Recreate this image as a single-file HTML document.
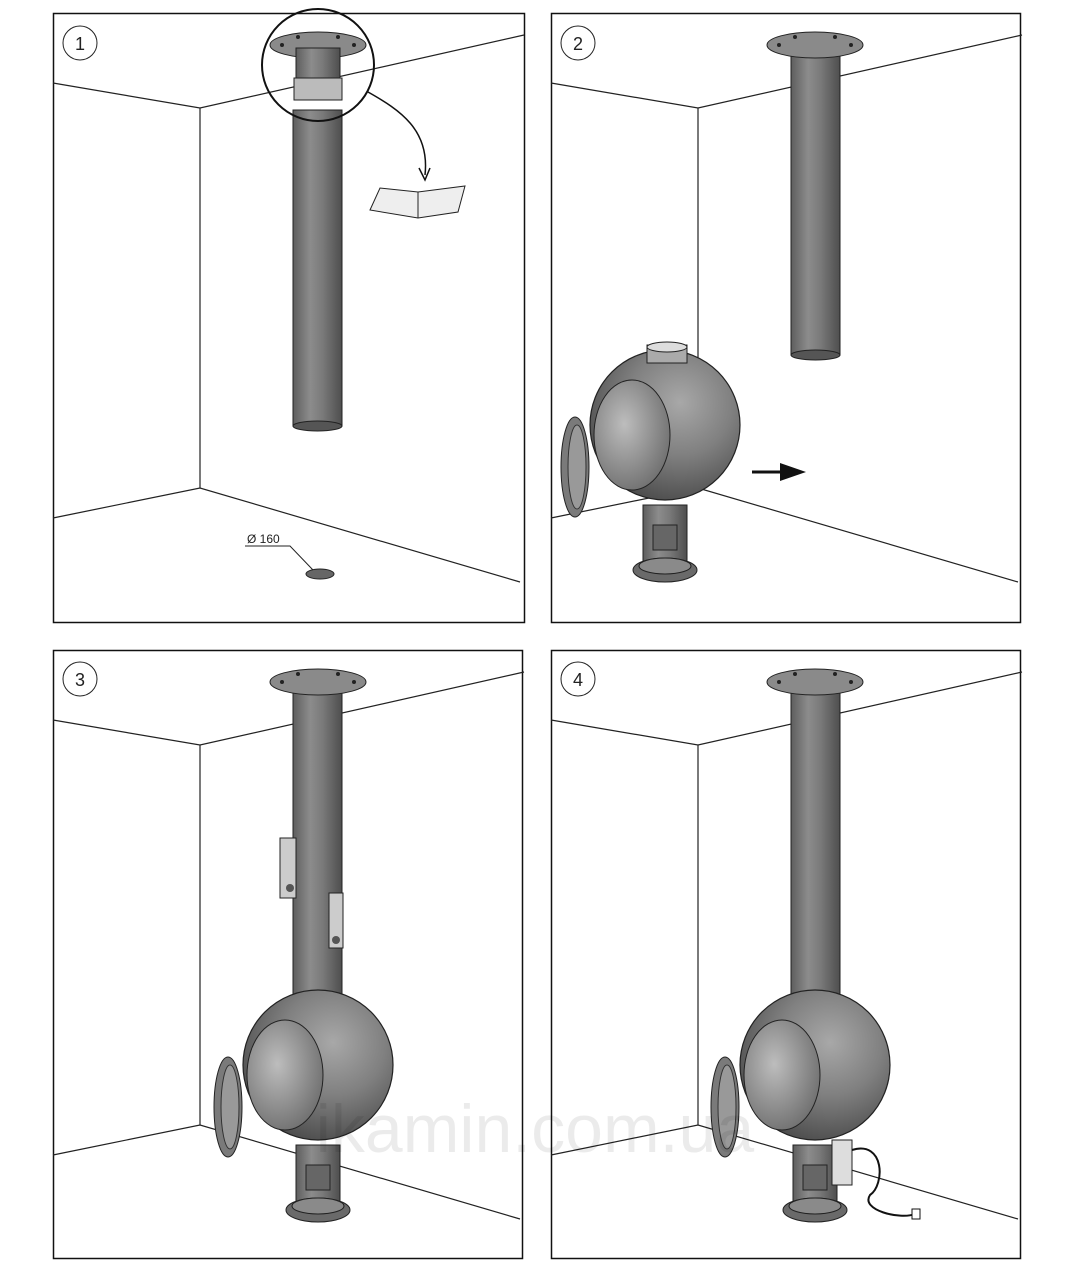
<!DOCTYPE html>
<html><head><meta charset="utf-8"><style>
html,body{margin:0;padding:0;background:#fff}
svg{display:block}
</style></head><body>
<svg width="1070" height="1280" viewBox="0 0 1070 1280" xmlns="http://www.w3.org/2000/svg" font-family="Liberation Sans, sans-serif">
<defs>
<linearGradient id="pipe" x1="0" x2="1" y1="0" y2="0">
<stop offset="0" stop-color="#5e5e5e"/><stop offset="0.35" stop-color="#8c8c8c"/><stop offset="0.6" stop-color="#7a7a7a"/><stop offset="1" stop-color="#4e4e4e"/>
</linearGradient>
<radialGradient id="ball" cx="0.6" cy="0.35" r="0.7">
<stop offset="0" stop-color="#a8a8a8"/><stop offset="0.5" stop-color="#808080"/><stop offset="1" stop-color="#4a4a4a"/>
</radialGradient>
<radialGradient id="hole" cx="0.4" cy="0.4" r="0.7">
<stop offset="0" stop-color="#bdbdbd"/><stop offset="1" stop-color="#6a6a6a"/>
</radialGradient>
<g id="walls" fill="none" stroke="#222" stroke-width="1.2">
<polyline points="0,70 147,95 471,22"/>
<line x1="147" y1="95" x2="147" y2="475"/>
<polyline points="0,505 147,475 467,569"/>
</g>
<g id="flange">
<ellipse cx="0" cy="0" rx="48" ry="13" fill="#8a8a8a" stroke="#222"/>
<circle cx="-36" cy="0" r="2" fill="#222"/><circle cx="36" cy="0" r="2" fill="#222"/>
<circle cx="-20" cy="-8" r="2" fill="#222"/><circle cx="20" cy="-8" r="2" fill="#222"/>
</g>
<g id="stove">
<rect x="-22" y="80" width="44" height="65" fill="url(#pipe)" stroke="#222"/>
<rect x="-12" y="100" width="24" height="25" fill="#666" stroke="#222"/>
<ellipse cx="0" cy="145" rx="32" ry="12" fill="#6a6a6a" stroke="#222"/>
<ellipse cx="0" cy="141" rx="26" ry="8" fill="#8a8a8a" stroke="#222"/>
<circle cx="0" cy="0" r="75" fill="url(#ball)" stroke="#222" stroke-width="1.2"/>
<ellipse cx="-33" cy="10" rx="38" ry="55" fill="url(#hole)" stroke="#222"/>
<ellipse cx="-90" cy="42" rx="14" ry="50" fill="#7a7a7a" stroke="#222"/>
<ellipse cx="-88" cy="42" rx="9" ry="42" fill="#999" stroke="#333"/>
</g>
</defs>

<rect x="53.5" y="13.5" width="471" height="609" fill="none" stroke="#111" stroke-width="1.5"/>
<rect x="551.5" y="13.5" width="469" height="609" fill="none" stroke="#111" stroke-width="1.5"/>
<rect x="53.5" y="650.5" width="469" height="608" fill="none" stroke="#111" stroke-width="1.5"/>
<rect x="551.5" y="650.5" width="469" height="608" fill="none" stroke="#111" stroke-width="1.5"/>

<use href="#walls" x="53" y="13"/>
<use href="#walls" x="551" y="13"/>
<use href="#walls" x="53" y="650"/>
<use href="#walls" x="551" y="650"/>

<g font-size="18" text-anchor="middle" fill="#222">
<circle cx="80" cy="43" r="17" fill="#fff" stroke="#222"/><text x="80" y="50">1</text>
<circle cx="578" cy="43" r="17" fill="#fff" stroke="#222"/><text x="578" y="50">2</text>
<circle cx="80" cy="679" r="17" fill="#fff" stroke="#222"/><text x="80" y="686">3</text>
<circle cx="578" cy="679" r="17" fill="#fff" stroke="#222"/><text x="578" y="686">4</text>
</g>

<rect x="293" y="110" width="49" height="316" fill="url(#pipe)" stroke="#222"/>
<ellipse cx="317.5" cy="426" rx="24.5" ry="5" fill="#555" stroke="#222"/>
<use href="#flange" x="318" y="45"/>
<rect x="296" y="48" width="44" height="50" fill="url(#pipe)" stroke="#222"/>
<rect x="294" y="78" width="48" height="22" fill="#bbb" stroke="#222"/>
<circle cx="318" cy="65" r="56" fill="none" stroke="#111" stroke-width="2"/>
<path d="M368,92 C400,110 430,130 425,175" fill="none" stroke="#111" stroke-width="1.5"/>
<path d="M419,168 L425,180 L430,168" fill="none" stroke="#111" stroke-width="1.5"/>
<path d="M370,210 L380,188 L418,192 L465,186 L458,212 L418,218 Z" fill="#eee" stroke="#222"/>
<line x1="418" y1="192" x2="418" y2="218" stroke="#222"/>
<ellipse cx="320" cy="574" rx="14" ry="5" fill="#666" stroke="#222"/>
<text x="247" y="543" font-size="12" fill="#222">Ø 160</text>
<polyline points="245,546 290,546 313,570" fill="none" stroke="#222"/>

<rect x="791" y="47" width="49" height="308" fill="url(#pipe)" stroke="#222"/>
<ellipse cx="815.5" cy="355" rx="24.5" ry="5" fill="#555" stroke="#222"/>
<use href="#flange" x="815" y="45"/>
<use href="#stove" x="665" y="425"/>
<rect x="647" y="345" width="40" height="18" fill="#aaa" stroke="#222"/>
<ellipse cx="667" cy="347" rx="20" ry="5" fill="#ddd" stroke="#222"/>
<line x1="752" y1="472" x2="785" y2="472" stroke="#111" stroke-width="3"/>
<polygon points="780,463 806,472 780,481" fill="#111"/>

<rect x="293" y="680" width="49" height="320" fill="url(#pipe)" stroke="#222"/>
<use href="#flange" x="318" y="682"/>
<use href="#stove" x="318" y="1065"/>
<rect x="280" y="838" width="16" height="60" fill="#ccc" stroke="#222"/>
<circle cx="290" cy="888" r="4" fill="#555"/>
<rect x="329" y="893" width="14" height="55" fill="#ccc" stroke="#222"/>
<circle cx="336" cy="940" r="4" fill="#555"/>

<rect x="791" y="680" width="49" height="320" fill="url(#pipe)" stroke="#222"/>
<use href="#flange" x="815" y="682"/>
<use href="#stove" x="815" y="1065"/>
<rect x="832" y="1140" width="20" height="45" fill="#ddd" stroke="#222"/>
<path d="M852,1150 C885,1140 885,1185 870,1195 C860,1210 900,1220 915,1214" fill="none" stroke="#111" stroke-width="2"/>
<rect x="912" y="1209" width="8" height="10" fill="#fff" stroke="#111"/>

<text x="535" y="1152" font-size="68" text-anchor="middle" fill="#000" fill-opacity="0.08">ikamin.com.ua</text>
</svg>
</body></html>
